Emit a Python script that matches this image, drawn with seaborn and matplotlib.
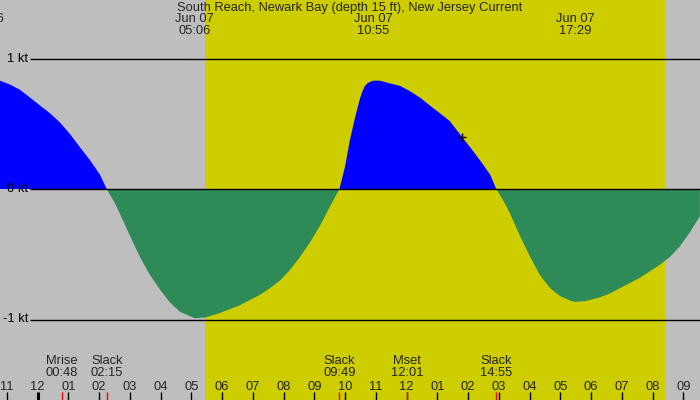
import matplotlib

matplotlib.use("Agg")
import matplotlib.pyplot as plt
import numpy as np
import seaborn as sns

# current curve, hours from Jun 07 00:00, knots (flood > 0, ebb < 0)
hours = [
    -1.74, -1.22, -0.89, -0.57, -0.24, 0.08, 0.41, 0.73, 1.06, 1.38, 1.71, 2.03, 2.25,
    2.52, 2.68, 3.01, 3.33, 3.66, 3.98, 4.31, 4.63, 4.96, 5.10, 5.45, 5.67, 5.93,
    6.26, 6.59, 6.91, 7.24, 7.56, 7.89, 8.21, 8.54, 8.86, 9.19, 9.51, 9.82,
    10.00, 10.16, 10.33, 10.49, 10.57, 10.65, 10.73, 10.81, 10.92, 11.14, 11.37,
    11.79, 12.11, 12.44, 12.76, 13.09, 13.41, 13.80, 14.07, 14.39, 14.72, 14.92,
    15.20, 15.37, 15.69, 16.02, 16.34, 16.67, 16.99, 17.32, 17.48, 17.80, 18.29,
    18.62, 18.94, 19.27, 19.59, 19.92, 20.24, 20.57, 20.89, 21.22, 21.54,
]
knots = [
    0.86, 0.83, 0.80, 0.76, 0.70, 0.64, 0.58, 0.51, 0.42, 0.32, 0.22, 0.11, 0.0,
    -0.11, -0.19, -0.36, -0.52, -0.66, -0.77, -0.87, -0.94, -0.975, -0.99, -0.985, -0.97, -0.95,
    -0.92, -0.89, -0.85, -0.81, -0.76, -0.70, -0.62, -0.52, -0.41, -0.28, -0.135, 0.0,
    0.17, 0.375, 0.55, 0.695, 0.75, 0.79, 0.81, 0.82, 0.83, 0.83, 0.815,
    0.79, 0.75, 0.70, 0.64, 0.58, 0.52, 0.40, 0.32, 0.22, 0.11, 0.0,
    -0.11, -0.19, -0.36, -0.52, -0.66, -0.76, -0.82, -0.855, -0.865, -0.86, -0.83,
    -0.80, -0.76, -0.72, -0.68, -0.63, -0.58, -0.52, -0.44, -0.33, -0.21,
]

# max flood / max ebb labels along the top
max_hours = [-1.74, 5.10, 10.917, 17.483]
max_dates = ["Jun 06", "Jun 07", "Jun 07", "Jun 07"]
max_times = ["22:16", "05:06", "10:55", "17:29"]

# slack and moon events along the bottom
event_hours = [0.80, 2.25, 9.817, 12.017, 14.917]
event_names = ["Mrise", "Slack", "Slack", "Mset", "Slack"]
event_times = ["00:48", "02:15", "09:49", "12:01", "14:55"]

sunrise, sunset = 5.46, 20.42
now_hour, now_knots = 13.80, 0.40
hour_ticks = list(range(-1, 22))
hour_labels = [f"{(h - 1) % 12 + 1:02d}" for h in hour_ticks]
level_values = [1, 0, -1]
level_labels = ["1 kt", "0 kt", "-1 kt"]

sns.set_theme(style="white")
plt.rcParams["font.family"] = ["Liberation Sans", "DejaVu Sans"]

BG = "#bebebe"
DAY = "#cdcd00"
FLOOD = "#0000ff"
EBB = "#2e8b57"
FS = 9.3

fig = plt.figure(figsize=(7, 4), dpi=100)
fig.patch.set_facecolor(BG)
ax = fig.add_axes([0, 0, 1, 1])
ax.set_facecolor(BG)
ax.set_xlim(-37.5 / 30.75, (700 - 37.5) / 30.75)
ax.set_ylim((189 - 400) / 130.5, 189 / 130.5)
ax.axis("off")

ax.axvspan(sunrise, sunset, color=DAY, lw=0, zorder=0)

x = np.array(hours)
y = np.array(knots)
ax.fill_between(x, y, 0, where=y >= 0, interpolate=True, color=FLOOD, lw=0, zorder=1)
ax.fill_between(x, y, 0, where=y <= 0, interpolate=True, color=EBB, lw=0, zorder=1)

x0, x1 = ax.get_xlim()
line_start = x0 + 30 / 30.75
ax.hlines(level_values, line_start, x1, color="black", lw=1.0, zorder=2)
for v, lab in zip(level_values, level_labels):
    ax.text(line_start - 2 / 30.75, v, lab, ha="right", va="center", fontsize=FS,
            color="black", zorder=4)

sns.scatterplot(x=[now_hour], y=[now_knots], marker="+", s=38, color="black",
                linewidth=1.0, ax=ax, zorder=3, legend=False)

xt = ax.get_xaxis_transform()
ax.text(0.5, 1 - 7.5 / 400, "South Reach, Newark Bay (depth 15 ft), New Jersey Current",
        transform=ax.transAxes, ha="center", va="center", fontsize=FS)
for h, d, t in zip(max_hours, max_dates, max_times):
    ax.text(h, 1 - 19.5 / 400, d, transform=xt, ha="center", va="center", fontsize=FS)
    ax.text(h, 1 - 31.5 / 400, t, transform=xt, ha="center", va="center", fontsize=FS)

for h, n, t in zip(event_hours, event_names, event_times):
    ax.text(h, 1 - 361.5 / 400, n, transform=xt, ha="center", va="center", fontsize=FS)
    ax.text(h, 1 - 373.5 / 400, t, transform=xt, ha="center", va="center", fontsize=FS)

for h, lab in zip(hour_ticks, hour_labels):
    ax.text(h, 1 - 386.5 / 400, lab, transform=xt, ha="center", va="center", fontsize=FS)
    ax.vlines(h, 0, 8 / 400, transform=xt, color="black", lw=2.2 if h == 0 else 1)
ax.vlines(event_hours, 0, 8 / 400, transform=xt, color="red", lw=1)

fig.savefig("out.png", dpi=100, facecolor=BG)
